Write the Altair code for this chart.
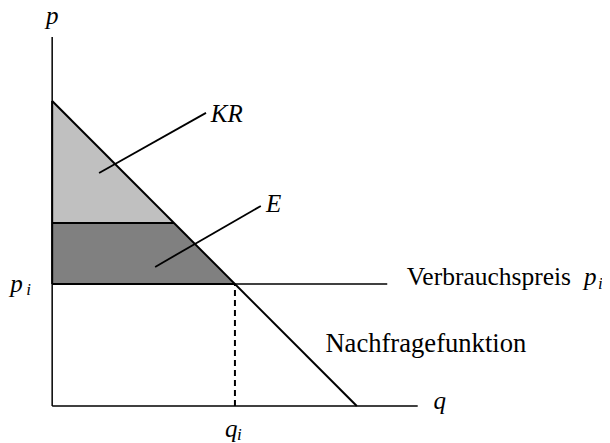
import altair as alt
import pandas as pd

# Economic quantities (data units)
p_max = 10.0        # demand intercept (price axis)
q_max = 10.0        # demand intercept (quantity axis)
p_i = 4.0           # Verbrauchspreis
q_i = 6.0           # Nachfrage bei p_i
p_upper = 6.0       # upper boundary between KR and E
q_upper = 4.0
axis_q_end = 12.0
axis_p_end = 12.1
price_line_end = 11.0

# Areas
kr_q = [0.0, q_upper]
kr_top = [p_max, p_upper]
kr_bot = [p_upper, p_upper]
e_q = [0.0, q_upper, q_i]
e_top = [p_upper, p_upper, p_i]
e_bot = [p_i, p_i, p_i]

# Labels (text, q, p)
ital_labels = ["p", "KR", "E", "p", "q", "q", "p"]
ital_q = [-0.20, 5.21, 7.02, -1.38, 12.52, 5.67, 17.46]
ital_p = [12.52, 9.31, 6.36, 3.74, -0.10, -1.02, 3.97]
sub_labels = ["i", "i", "i"]
sub_q = [-0.85, 6.07, 17.92]
sub_p = [3.64, -1.11, 3.84]
roman_labels = ["Verbrauchspreis", "Nachfragefunktion"]
roman_q = [11.64, 8.97]
roman_p = [3.97, 1.77]
roman_size = [25.5, 26.6]

# Pointer lines
kr_ptr_q = [1.54, 5.05]
kr_ptr_p = [7.64, 9.61]
e_ptr_q = [3.38, 6.85]
e_ptr_p = [4.56, 6.56]

xs = alt.Scale(domain=[-1.45, 18.05], nice=False, zero=False)
ys = alt.Scale(domain=[-1.213, 12.721], nice=False, zero=False)
X = lambda f: alt.X(f, type="quantitative", scale=xs, axis=None)
Y = lambda f: alt.Y(f, type="quantitative", scale=ys, axis=None)

kr_df = pd.DataFrame({"q": kr_q, "top": kr_top, "bot": kr_bot})
e_df = pd.DataFrame({"q": e_q, "top": e_top, "bot": e_bot})

kr_area = alt.Chart(kr_df).mark_area(color="#c0c0c0").encode(x=X("q"), y=Y("top"), y2="bot")
e_area = alt.Chart(e_df).mark_area(color="#808080").encode(x=X("q"), y=Y("top"), y2="bot")

def seg(q0, p0, q1, p1, width=1.5, dash=None):
    df = pd.DataFrame({"q": [q0], "p": [p0], "q2": [q1], "p2": [p1]})
    kw = dict(color="black", strokeWidth=width)
    if dash:
        kw["strokeDash"] = dash
    return alt.Chart(df).mark_rule(**kw).encode(x=X("q"), y=Y("p"), x2="q2", y2="p2")

lines = [
    seg(0, 0, 0, axis_p_end, 1.5),
    seg(0, 0, axis_q_end, 0, 1.5),
    seg(0, p_max, q_max, 0, 2),
    seg(0, p_upper, q_upper, p_upper, 2),
    seg(0, p_i, q_i, p_i, 2),
    seg(q_i, p_i, price_line_end, p_i, 1.3),
    seg(q_i, 0, q_i, p_i, 2, [6, 4]),
    seg(0, p_i, 0, p_max, 2),
    seg(kr_ptr_q[0], kr_ptr_p[0], kr_ptr_q[1], kr_ptr_p[1], 1.8),
    seg(e_ptr_q[0], e_ptr_p[0], e_ptr_q[1], e_ptr_p[1], 1.8),
]

font = "Liberation Serif"
ital_df = pd.DataFrame({"t": ital_labels, "q": ital_q, "p": ital_p})
sub_df = pd.DataFrame({"t": sub_labels, "q": sub_q, "p": sub_p})
rom_df = pd.DataFrame({"t": roman_labels, "q": roman_q, "p": roman_p, "s": roman_size})

ital = alt.Chart(ital_df).mark_text(font=font, fontSize=25, fontStyle="italic", align="left",
                                     baseline="alphabetic", color="black").encode(x=X("q"), y=Y("p"), text="t")
sub = alt.Chart(sub_df).mark_text(font=font, fontSize=17, fontStyle="italic", align="left",
                                   baseline="alphabetic", color="black").encode(x=X("q"), y=Y("p"), text="t")
rom = alt.Chart(rom_df).mark_text(font=font, align="left", baseline="alphabetic", color="black").encode(
    x=X("q"), y=Y("p"), text="t", size=alt.Size("s", type="quantitative", scale=None, legend=None))

chart = alt.layer(kr_area, e_area, *lines, ital, sub, rom).properties(
    width=594, height=425, autosize="none",
    padding={"top": 10, "left": 0, "right": 0, "bottom": 0}
).configure_view(stroke=None)

chart.save("out.html", embed_options={"renderer": "svg", "actions": False})
